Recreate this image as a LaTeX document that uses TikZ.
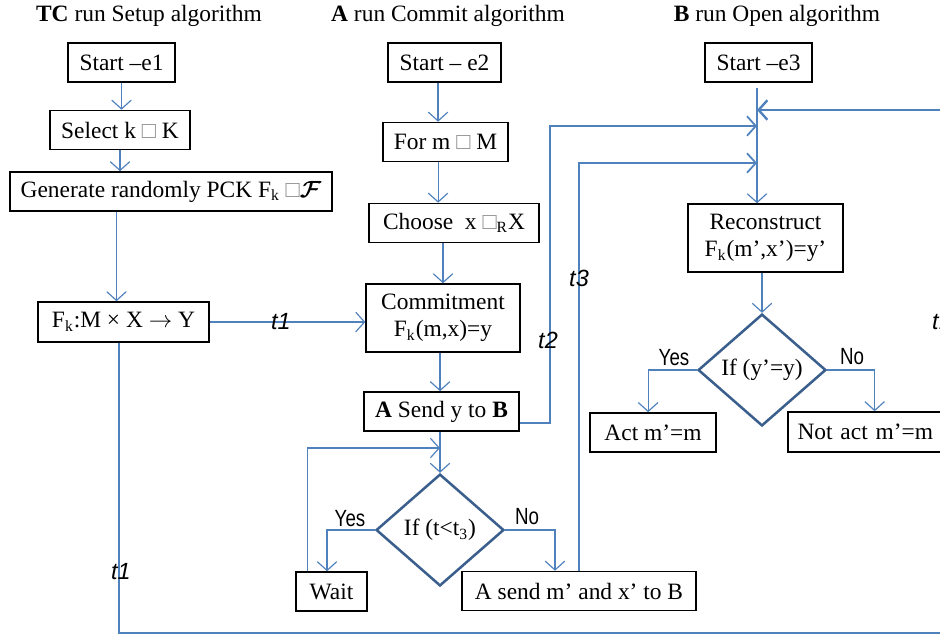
\documentclass[tikz,border=0pt]{standalone}
\usepackage{fontspec}
\setmainfont{Liberation Serif}
\newfontfamily\labelfont{Liberation Sans}
\usepackage{bm}
\usetikzlibrary{positioning, arrows.meta, calc, shapes.geometric}
\definecolor{flowblue}{HTML}{4F81BD}
\definecolor{darkblue}{HTML}{3A5F8C}
\definecolor{glyphgray}{HTML}{8C8C8C}
\newcommand{\nosq}{\textcolor{glyphgray}{□}}
\newcommand{\narrow}[1]{\scalebox{0.8}[1]{#1}}

\begin{document}
\begin{tikzpicture}[x=0.018cm, y=-0.018cm,
    every node/.style={font=\fontsize{12}{14}\selectfont},
    stepbox/.style={draw=black, line width=0.8pt, inner xsep=5pt, inner ysep=0pt, minimum height=20pt},
    decision/.style={diamond, draw=darkblue, line width=1.3pt, inner sep=0pt, minimum width=65.5pt, minimum height=57.3pt},
    flow/.style={draw=flowblue, line width=0.6pt, -{Straight Barb[length=4.5pt, width=10pt]}},
    wire/.style={draw=flowblue, line width=0.9pt},
    answer/.style={font=\labelfont\fontsize{12}{13}\selectfont, inner sep=1pt},
    tlabel/.style={font=\labelfont\itshape\fontsize{12}{14}\selectfont, inner sep=0pt}]
  \useasboundingbox (0,0) rectangle (940,637);

  \node (titletc) at (149,16) {\textbf{TC} run Setup algorithm};
  \node (titlea) at (448,16) {\textbf{A} run Commit algorithm};
  \node (titleb) at (777,16) {\textbf{B} run Open algorithm};

  \node[stepbox, minimum width=54.8pt] (starte1) at (121.5,62.5) {Start –e1};
  \node[stepbox, minimum width=71.7pt] (selectk) at (120,130) {Select k \nosq\ K};
  \node[stepbox, minimum width=164.9pt] (genpck) at (171,191.5) {Generate randomly PCK F\textsubscript{k} \nosq$\bm{\mathcal{F}}$};
  \node[stepbox, minimum width=87.6pt, minimum height=20.5pt] (fkmap) at (123.5,322) {F\textsubscript{k}:M × X $\rightarrow$ Y};

  \node[stepbox, minimum width=57.9pt] (starte2) at (444.5,62.5) {Start – e2};
  \node[stepbox, minimum width=64pt] (form) at (445.5,142) {For m \nosq\ M};
  \node[stepbox, minimum width=87pt] (choosex) at (454,223) {Choose~ x \nosq\textsubscript{R}X};
  \node[stepbox, minimum width=78.8pt, minimum height=34.8pt, align=center] (commit) at (443,318) {Commitment\\F\textsubscript{k}(m,x)=y};
  \node[stepbox, minimum width=79.4pt] (senday) at (441.5,411.5) {\textbf{A} Send y to \textbf{B}};
  \node[decision] (ifwait) at (440,530) {If (t<t\textsubscript{3})};
  \node[stepbox, minimum width=36.4pt] (wait) at (331.5,591.5) {Wait};
  \node[stepbox, minimum width=119.8pt] (sendmx) at (579,591) {A send m’ and x’ to B};

  \node[stepbox, minimum width=54.8pt] (starte3) at (758.5,62.5) {Start –e3};
  \node[stepbox, minimum width=79.4pt, minimum height=34.8pt, align=center] (recon) at (765.5,238) {Reconstruct\\F\textsubscript{k}(m’,x’)=y’};
  \node[decision] (ifequal) at (762,370) {If (y’=y)};
  \node[stepbox, minimum width=64.5pt] (act) at (653,432.5) {Act m’=m};
  \node[stepbox, anchor=west, text width=75pt, align=left, minimum height=20.5pt] (notact) at (787,432) {Not act m’=m};

  \coordinate (bline) at (757,88);
  \coordinate (tin1) at (757,110);
  \coordinate (tin2) at (757,126);
  \coordinate (tin3) at (757,163);
  \coordinate (waitin) at (440,448);
  \coordinate (rloop) at (946,633);

  \draw[flow] (starte1.south) -- (starte1.south |- selectk.north);
  \draw[flow] (selectk.south) -- (selectk.south |- genpck.north);
  \draw[flow] ([xshift=-3.6pt]fkmap.north |- genpck.south) -- ([xshift=-3.6pt]fkmap.north);
  \draw[flow] (fkmap.east) -- (fkmap.east -| commit.west);
  \node[tlabel] (lt1a) at (281,322) {t1};

  \draw[flow] ([xshift=-3.3pt]starte2.south) -- ([xshift=-3.3pt]starte2.south |- form.north);
  \draw[flow] ([xshift=-3.8pt]form.south) -- ([xshift=-3.8pt]form.south |- choosex.north);
  \draw[flow] (commit.north |- choosex.south) -- (commit.north);
  \draw[flow] ([xshift=-1.5pt]commit.south) -- ([xshift=-1.5pt]commit.south |- senday.north);
  \draw[flow] (ifwait.north |- senday.south) -- (ifwait.north);
  \draw[flow] (ifwait.west) -| ([xshift=-2.3pt]wait.north);
  \node[answer] (yesa) at (350,519) {\narrow{Yes}};
  \draw[flow] (ifwait.east) -| ([xshift=-12.3pt]sendmx.north);
  \node[answer] (noa) at (527,517) {\narrow{No}};
  \draw[flow] ([xshift=-12.5pt]wait.north) |- (waitin);

  \draw[wire, -{Straight Barb[length=4.5pt, width=10pt]}] ([yshift=-6pt]senday.east) -- ++(30,0) |- (tin2);
  \node[tlabel] (lt2) at (548,340) {t2};
  \draw[wire, -{Straight Barb[length=4.5pt, width=10pt]}] (sendmx.north) |- (tin3);
  \node[tlabel] (lt3) at (579,278) {t3};

  \draw[flow] (bline) -- (bline |- recon.north);
  \draw[flow] (ifequal.north |- recon.south) -- (ifequal.north);
  \draw[flow] (ifequal.west) -| ([xshift=-2.5pt]act.north);
  \node[answer] (yesb) at (674,358) {\narrow{Yes}};
  \draw[flow] (ifequal.east) -| ([xshift=2pt]notact.north);
  \node[answer] (nob) at (852,357) {\narrow{No}};

  \draw[wire, line width=1.2pt, -{Straight Barb[length=4.5pt, width=10pt]}] ([xshift=-2.3pt]fkmap.south) |- (rloop) |- (tin1);
  \node[tlabel] (lt1b) at (121,572) {t1};
  \node[tlabel] (lt1c) at (942,322) {t1};
\end{tikzpicture}
\end{document}
